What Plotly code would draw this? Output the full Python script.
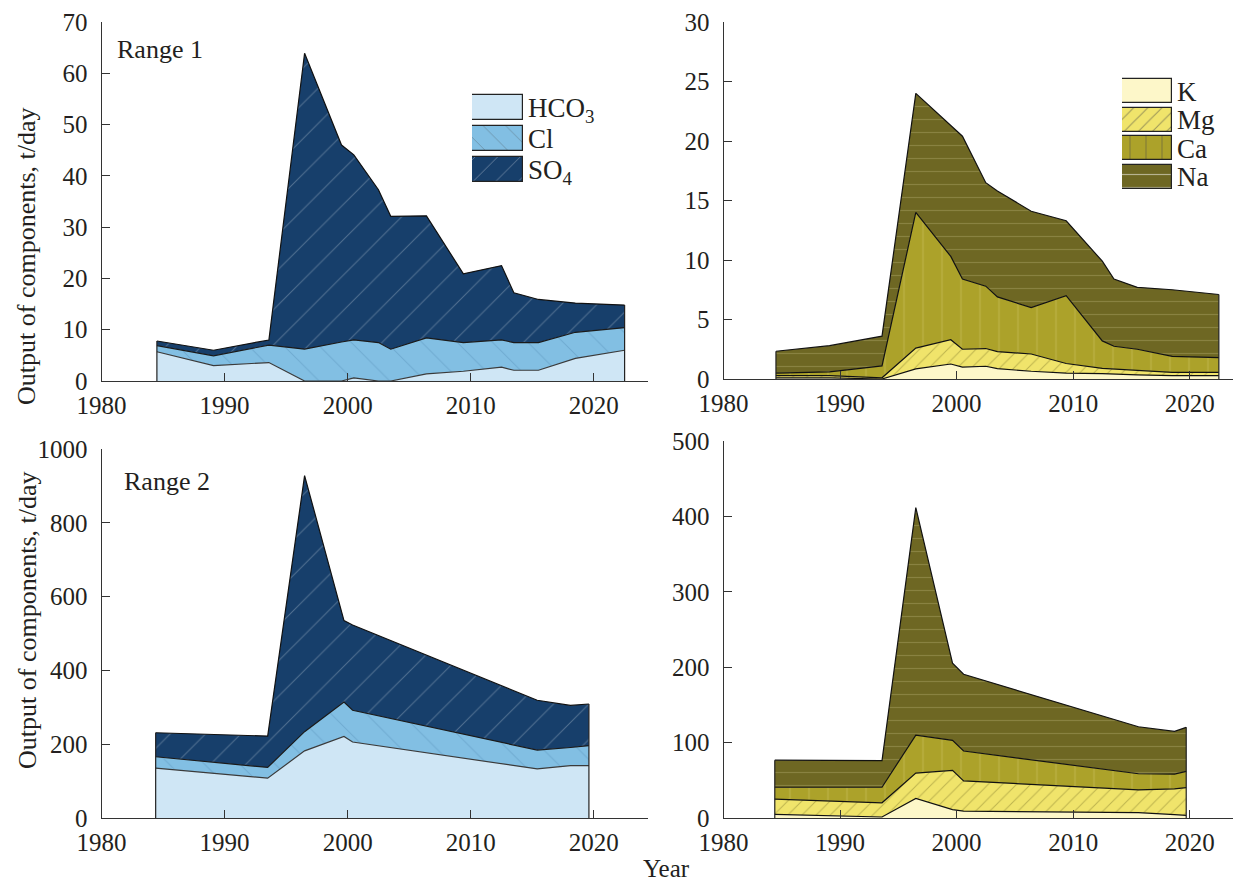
import plotly.graph_objects as go

# ---------------- data ----------------
years_r1 = [1984.5, 1989.1, 1993.6, 1996.5, 1999.5, 2000.5, 2002.5, 2003.5,
            2006.4, 2009.4, 2012.5, 2013.5, 2015.5, 2018.5, 2022.5]
r1_hco3 = [5.7, 3.0, 3.6, 0.0, 0.0, 0.6, 0.0, 0.0, 1.4, 1.9, 2.7, 2.1, 2.1, 4.4, 6.0]
r1_cl = [1.2, 1.9, 3.4, 6.2, 7.6, 7.4, 7.5, 6.2, 7.0, 5.6, 5.3, 5.4, 5.4, 5.1, 4.4]
r1_so4 = [0.9, 1.1, 1.0, 57.7, 38.4, 36.1, 29.8, 25.9, 23.8, 13.4, 14.5, 9.7, 8.4, 5.7, 4.4]

r1_k = [0.1, 0.1, 0.0, 0.85, 1.26, 1.0, 1.07, 0.87, 0.65, 0.5, 0.45, 0.4, 0.34, 0.28, 0.28]
r1_mg = [0.18, 0.18, 0.1, 1.75, 2.04, 1.5, 1.49, 1.43, 1.45, 0.8, 0.45, 0.45, 0.36, 0.28, 0.28]
r1_ca = [0.22, 0.32, 1.0, 11.4, 7.0, 5.9, 5.24, 4.6, 3.9, 5.7, 2.3, 1.9, 1.8, 1.34, 1.24]
r1_na = [1.83, 2.2, 2.5, 10.0, 11.0, 12.0, 8.7, 8.9, 8.1, 6.3, 6.7, 5.65, 5.2, 5.6, 5.3]

years_r2_anions = [1984.4, 1993.5, 1996.5, 1999.7, 2000.4, 2015.4, 2018.1, 2019.6]
r2_hco3 = [135, 108, 182, 221, 206, 133, 142, 142]
r2_cl = [31, 29, 52, 93, 86, 51, 49, 54]
r2_so4 = [65, 85, 694, 221, 231, 135, 114, 113]

years_r2_cations = [1984.4, 1989.1, 1993.6, 1996.5, 1999.65, 2000.6, 2015.6, 2018.7, 2019.7]
r2_k = [4.9, 2.7, 1.3, 26.0, 11.2, 9.0, 7.2, 4.5, 3.6]
r2_mg = [20.2, 20.2, 18.9, 33.6, 52.0, 40.3, 30.0, 34.1, 36.8]
r2_ca = [15.7, 17.9, 20.6, 50.4, 39.8, 39.5, 21.5, 19.7, 21.5]
r2_na = [35.9, 35.4, 35.4, 301.7, 102.4, 101.8, 62.3, 56.5, 58.3]

anion_names = ["HCO3", "Cl", "SO4"]
anion_labels = ["HCO<sub>3</sub>", "Cl", "SO<sub>4</sub>"]
cation_names = ["K", "Mg", "Ca", "Na"]
cation_labels = ["K", "Mg", "Ca", "Na"]
x_ticks = [1980, 1990, 2000, 2010, 2020]

# ---------------- styles ----------------
FAMILY = "Liberation Serif, Times New Roman, serif"
TXT = "#231f20"
AX = "#333333"
OFF = 8                      # page body margin of the html page
W, H = 1241 - OFF, 882 - OFF


def fnt(size):
    return dict(family=FAMILY, size=size, color=TXT)


styles = {
    "HCO3": dict(fill="#cfe6f5", shape="", fg="#cfe6f5", size=20, sol=0.1, line="#3a3a3a"),
    "Cl": dict(fill="#82bfe3", shape="\\", fg="#5d97bf", size=25, sol=0.04, line="#1a1a1a"),
    "SO4": dict(fill="#173f6b", shape="/", fg="#8ea2b8", size=25, sol=0.04, line="#111111"),
    "K": dict(fill="#fdf7c9", shape="", fg="#fdf7c9", size=20, sol=0.1, line="#111111"),
    "Mg": dict(fill="#f0e46b", shape="/", fg="#8c8231", size=10, sol=0.1, line="#111111"),
    "Ca": dict(fill="#aca22a", shape="|", fg="#cbc363", size=19, sol=0.06, line="#111111"),
    "Na": dict(fill="#6e6723", shape="-", fg="#a39d60", size=13, sol=0.09, line="#111111"),
}


def px_x(p):
    return (p - OFF) / W


def px_y(p):
    return 1 - (p - OFF) / H


def area(x, y, name, xa, ya, group):
    s = styles[name]
    return go.Scatter(
        x=x, y=y, name=name, mode="lines", stackgroup=group,
        line=dict(color=s["line"], width=1.2),
        fillcolor=s["fill"],
        fillpattern=dict(shape=s["shape"], fgcolor=s["fg"], bgcolor=s["fill"],
                         size=s["size"], solidity=s["sol"]),
        xaxis=xa, yaxis=ya, showlegend=False, hoverinfo="x+y+name",
    )


fig = go.Figure()

panels = [
    (years_r1, [r1_hco3, r1_cl, r1_so4], anion_names, "x", "y", "g1"),
    (years_r1, [r1_k, r1_mg, r1_ca, r1_na], cation_names, "x2", "y2", "g2"),
    (years_r2_anions, [r2_hco3, r2_cl, r2_so4], anion_names, "x3", "y3", "g3"),
    (years_r2_cations, [r2_k, r2_mg, r2_ca, r2_na], cation_names, "x4", "y4", "g4"),
]
for yrs, series, names, xa, ya, grp in panels:
    for vals, nm in zip(series, names):
        fig.add_trace(area(yrs, vals, nm, xa, ya, grp))
    # closing vertical edges of the stack at the first and last sample
    totals = [sum(v) for v in zip(*series)]
    fig.add_trace(go.Scatter(
        x=[yrs[0], yrs[0], None, yrs[-1], yrs[-1]],
        y=[0, totals[0], None, 0, totals[-1]],
        mode="lines", line=dict(color="#222222", width=1.2),
        xaxis=xa, yaxis=ya, showlegend=False, hoverinfo="skip",
    ))


# legend swatches (bars on small auxiliary axes)
def swatches(names, xa, ya, width):
    st = [styles[n] for n in names]
    return go.Bar(
        y=names, x=[1] * len(names), orientation="h", width=width,
        xaxis=xa, yaxis=ya, showlegend=False, hoverinfo="skip",
        marker=dict(
            color=[s["fill"] for s in st],
            line=dict(color="#222222", width=1.2),
            pattern=dict(shape=[s["shape"] for s in st],
                         fgcolor=[s["fg"] for s in st],
                         size=[min(s["size"], 16) for s in st],
                         solidity=[s["sol"] for s in st]),
        ),
    )


fig.add_trace(swatches(anion_names, "x5", "y5", 0.78))
fig.add_trace(swatches(cation_names, "x6", "y6", 0.84))

xbase = dict(range=[1980, 2024.4], tickvals=x_ticks, ticks="inside", ticklen=8,
             tickwidth=1, tickcolor=AX, showline=True, linecolor=AX, linewidth=1.2,
             showgrid=False, zeroline=False, tickfont=fnt(25),
             ticklabelstandoff=2, automargin=False)
ybase = dict(ticks="inside", ticklen=8, tickwidth=1, tickcolor=AX, showline=True,
             linecolor=AX, linewidth=1.2, showgrid=False, zeroline=False,
             tickfont=fnt(25), ticklabelstandoff=8, automargin=False)

LX = [px_x(101.5), px_x(648)]
RX = [px_x(723.5), 1.0]

leg_y = dict(type="category", categoryorder="array", side="right", ticks="",
             showline=False, showgrid=False, zeroline=False, ticklabelstandoff=4,
             tickfont=fnt(27), fixedrange=True, automargin=False)
leg_x = dict(range=[0, 1], visible=False, fixedrange=True, automargin=False)

fig.update_layout(
    width=W, height=H,
    margin=dict(l=0, r=0, t=0, b=0, autoexpand=False),
    paper_bgcolor="white", plot_bgcolor="rgba(0,0,0,0)",
    font=fnt(25),
    showlegend=False,
    bargap=0,
    xaxis=dict(xbase, domain=LX, anchor="y"),
    yaxis=dict(ybase, domain=[px_y(381), px_y(22)], range=[0, 70], dtick=10, anchor="x"),
    xaxis2=dict(xbase, domain=RX, anchor="y2"),
    yaxis2=dict(ybase, domain=[px_y(379), px_y(22)], range=[0, 30], dtick=5, anchor="x2"),
    xaxis3=dict(xbase, domain=LX, anchor="y3"),
    yaxis3=dict(ybase, domain=[px_y(818), px_y(449)], range=[0, 1000], dtick=200, anchor="x3"),
    xaxis4=dict(xbase, domain=RX, anchor="y4"),
    yaxis4=dict(ybase, domain=[px_y(818), px_y(441)], range=[0, 500], dtick=100, anchor="x4"),
    # legend swatch axes
    xaxis5=dict(leg_x, domain=[px_x(472), px_x(523)], anchor="y5"),
    yaxis5=dict(leg_y, domain=[px_y(185), px_y(92)], categoryarray=anion_names,
                range=[2.5, -0.5], anchor="x5", tickvals=anion_names, ticktext=anion_labels),
    xaxis6=dict(leg_x, domain=[px_x(1122), px_x(1172)], anchor="y6"),
    yaxis6=dict(leg_y, domain=[px_y(191), px_y(77)], categoryarray=cation_names,
                range=[3.5, -0.5], anchor="x6", tickvals=cation_names, ticktext=cation_labels),
)

ann = [
    dict(text="Range 1", x=px_x(115), y=px_y(49), xanchor="left", yanchor="middle",
         font=fnt(26)),
    dict(text="Range 2", x=px_x(122), y=px_y(481), xanchor="left", yanchor="middle",
         font=fnt(26)),
    dict(text="Output of components, t/day", x=px_x(27), y=px_y(256), textangle=-90,
         xanchor="center", yanchor="middle", font=fnt(26)),
    dict(text="Output of components, t/day", x=px_x(27), y=px_y(620), textangle=-90,
         xanchor="center", yanchor="middle", font=fnt(26)),
    dict(text="Year", x=px_x(666), y=px_y(868), xanchor="center", yanchor="middle",
         font=fnt(25)),
]
for a in ann:
    fig.add_annotation(xref="paper", yref="paper", showarrow=False, **a)

fig.write_html("out.html")
